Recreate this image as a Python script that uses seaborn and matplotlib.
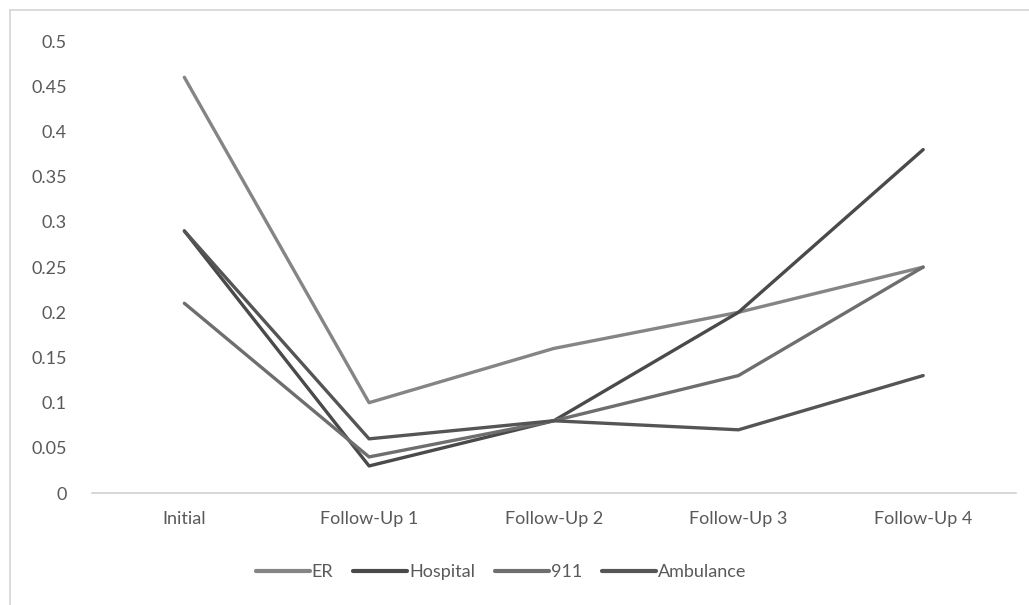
import matplotlib
matplotlib.use("Agg")
import matplotlib.pyplot as plt
from matplotlib.lines import Line2D
import seaborn as sns
import pandas as pd

stages = ["Initial", "Follow-Up 1", "Follow-Up 2", "Follow-Up 3", "Follow-Up 4"]
er = [0.46, 0.10, 0.16, 0.20, 0.25]
hospital = [0.29, 0.03, 0.08, 0.20, 0.38]
nine_one_one = [0.21, 0.04, 0.08, 0.13, 0.25]
ambulance = [0.29, 0.06, 0.08, 0.07, 0.13]
series_names = ["ER", "Hospital", "911", "Ambulance"]
yticks = [0, 0.05, 0.1, 0.15, 0.2, 0.25, 0.3, 0.35, 0.4, 0.45, 0.5]
ytick_labels = ["0", "0.05", "0.1", "0.15", "0.2", "0.25", "0.3", "0.35", "0.4", "0.45", "0.5"]

colors = {"ER": "#858585", "Hospital": "#4a4a4a", "911": "#6e6e6e", "Ambulance": "#555555"}

rows = []
for name, vals in zip(series_names, [er, hospital, nine_one_one, ambulance]):
    for i, (s, v) in enumerate(zip(stages, vals)):
        rows.append({"stage": s, "pos": i, "value": v, "series": name})
df = pd.DataFrame(rows)

sns.set_style("white")
plt.rcParams["font.family"] = ["Lato", "DejaVu Sans"]

fig = plt.figure(figsize=(10.29, 6.05), dpi=100)
ax = fig.add_axes([0.0894, 0.185, 0.8975, 0.747])

sns.lineplot(data=df, x="pos", y="value", hue="series", hue_order=series_names,
             palette=colors, linewidth=2.4, sort=False, legend=False, ax=ax)

ax.set_xlim(-0.5, 4.5)
ax.set_ylim(0, 0.5)
ax.set_xticks(range(len(stages)))
ax.set_xticklabels(stages)
ax.set_yticks(yticks)
ax.set_yticklabels(ytick_labels)
ax.set_xlabel("")
ax.set_ylabel("")
ax.tick_params(axis="both", length=0, labelsize=13, labelcolor="#595959")
ax.tick_params(axis="x", pad=13)
ax.tick_params(axis="y", pad=18)
for side in ["top", "right", "left"]:
    ax.spines[side].set_visible(False)
ax.spines["bottom"].set_color("#d0d0d0")
ax.spines["bottom"].set_linewidth(1.2)

handles = [Line2D([0], [0], color=colors[n], lw=3) for n in series_names]
fig.legend(handles, series_names, loc="center", bbox_to_anchor=(0.487, 0.054), ncol=4,
           frameon=False, fontsize=13, handlelength=3.0, handletextpad=0.1,
           columnspacing=1.1, labelcolor="#595959")

# chart-area border
fig.add_artist(Line2D([0.0097, 0.0097], [0.0, 0.984], transform=fig.transFigure,
                      color="#d4d4d4", lw=1.2))
fig.add_artist(Line2D([0.0097, 1.0], [0.984, 0.984], transform=fig.transFigure,
                      color="#d4d4d4", lw=1.2))

fig.savefig("out.png", dpi=100, facecolor="white")
